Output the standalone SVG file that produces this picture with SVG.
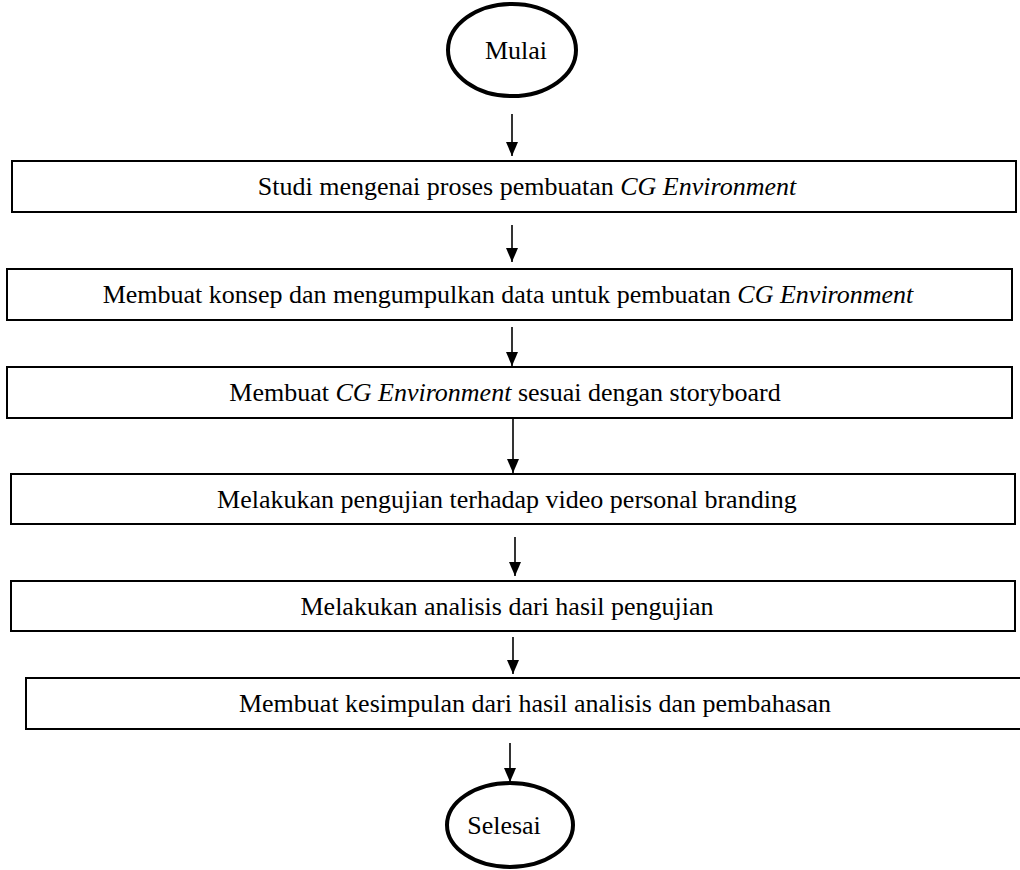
<svg xmlns="http://www.w3.org/2000/svg" width="1020" height="870" viewBox="0 0 1020 870">
<style>
.box{fill:#fff;stroke:#000;stroke-width:2}
.term{fill:#fff;stroke:#000;stroke-width:4}
.t{font-family:"Liberation Serif","Times New Roman",serif;font-size:26px;fill:#000;text-anchor:middle}
.i{font-style:italic}
.c{stroke:#000;stroke-width:1.6;fill:none;marker-end:url(#ah)}
</style>
<defs>
<marker id="ah" viewBox="0 0 14 12" refX="14" refY="6" markerWidth="14" markerHeight="12" markerUnits="userSpaceOnUse" orient="auto">
<path d="M0,0 L14,6 L0,12 z" fill="#000"/>
</marker>
</defs>
<rect width="1020" height="870" fill="#fff"/>
<g id="connectors">
<line class="c" x1="512" y1="114" x2="512" y2="156"/>
<line class="c" x1="512" y1="225" x2="512" y2="262"/>
<line class="c" x1="512" y1="327" x2="512" y2="366"/>
<line class="c" x1="513" y1="418" x2="513" y2="473"/>
<line class="c" x1="515" y1="537" x2="515" y2="576"/>
<line class="c" x1="513" y1="637" x2="513" y2="674"/>
<line class="c" x1="510" y1="743" x2="510" y2="782"/>
</g>
<g id="start">
<ellipse class="term" cx="512" cy="50" rx="64" ry="46"/>
<text class="t" x="516" y="59">Mulai</text>
</g>
<g id="step1">
<rect class="box" x="12" y="161" width="1004" height="51"/>
<text class="t" x="527" y="195">Studi mengenai proses pembuatan <tspan class="i">CG Environment</tspan></text>
</g>
<g id="step2">
<rect class="box" x="7" y="269" width="1005" height="51"/>
<text class="t" x="508" y="303">Membuat konsep dan mengumpulkan data untuk pembuatan <tspan class="i">CG Environment</tspan></text>
</g>
<g id="step3">
<rect class="box" x="7" y="367" width="1005" height="51"/>
<text class="t" x="505" y="401">Membuat <tspan class="i">CG Environment</tspan> sesuai dengan storyboard</text>
</g>
<g id="step4">
<rect class="box" x="11" y="474" width="1004" height="50"/>
<text class="t" x="507" y="508">Melakukan pengujian terhadap video personal branding</text>
</g>
<g id="step5">
<rect class="box" x="11" y="581" width="1004" height="50"/>
<text class="t" x="507" y="615">Melakukan analisis dari hasil pengujian</text>
</g>
<g id="step6">
<rect class="box" x="26" y="678" width="1012" height="51"/>
<text class="t" x="535" y="712">Membuat kesimpulan dari hasil analisis dan pembahasan</text>
</g>
<g id="end">
<ellipse class="term" cx="510" cy="825" rx="63" ry="42"/>
<text class="t" x="504" y="834">Selesai</text>
</g>
</svg>
